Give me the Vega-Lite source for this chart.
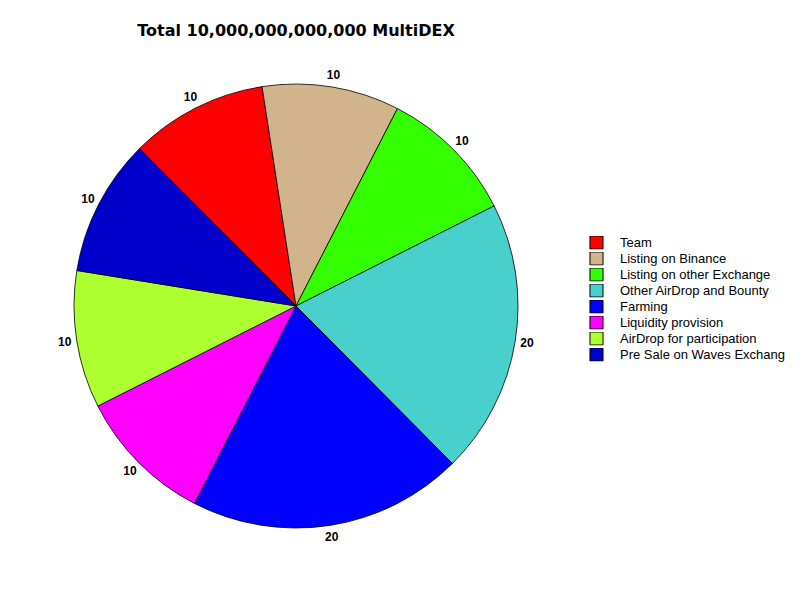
{
  "$schema": "https://vega.github.io/schema/vega-lite/v6.json",
  "autosize": "none",
  "width": 500,
  "height": 500,
  "padding": {"left": 46, "top": 56, "right": 254, "bottom": 44},
  "background": "white",
  "title": {
    "text": "Total 10,000,000,000,000 MultiDEX",
    "font": "DejaVu Sans",
    "fontSize": 16,
    "fontWeight": "bold",
    "color": "black",
    "anchor": "middle",
    "frame": "group",
    "offset": 17
  },
  "data": {
    "values": [
      {"name": "Team", "value": 10, "ord": 1},
      {"name": "Listing on Binance", "value": 10, "ord": 2},
      {"name": "Listing on other Exchange", "value": 10, "ord": 3},
      {"name": "Other AirDrop and Bounty", "value": 20, "ord": 4},
      {"name": "Farming", "value": 20, "ord": 5},
      {"name": "Liquidity provision", "value": 10, "ord": 6},
      {"name": "AirDrop for participation", "value": 10, "ord": 7},
      {"name": "Pre Sale on Waves Exchang", "value": 10, "ord": 8}
    ]
  },
  "encoding": {
    "theta": {"field": "value", "type": "quantitative", "stack": true, "scale": {"range": [-0.7819, 5.5013]}},
    "order": {"field": "ord", "type": "quantitative"}
  },
  "layer": [
    {
      "mark": {"type": "arc", "outerRadius": 222, "stroke": "black", "strokeWidth": 0.8},
      "encoding": {
        "color": {
          "field": "name",
          "type": "nominal",
          "sort": null,
          "scale": {
            "domain": ["Team", "Listing on Binance", "Listing on other Exchange", "Other AirDrop and Bounty", "Farming", "Liquidity provision", "AirDrop for participation", "Pre Sale on Waves Exchang"],
            "range": ["#FF0000", "#D2B48C", "#33FF00", "#48D1CC", "#0000FF", "#FF00FF", "#ADFF2F", "#0000CD"]
          },
          "legend": {
            "title": null,
            "orient": "none",
            "legendX": 543,
            "legendY": 180,
            "symbolType": "square",
            "symbolSize": 170,
            "symbolStrokeColor": "black",
            "symbolStrokeWidth": 1,
            "symbolOpacity": 1,
            "labelFont": "Liberation Sans",
            "labelFontSize": 13,
            "labelColor": "black",
            "labelOffset": 16,
            "labelLimit": 300,
            "clipHeight": 13,
            "rowPadding": 2
          }
        }
      }
    },
    {
      "mark": {"type": "text", "radius": 234, "font": "Liberation Sans", "fontSize": 12, "fontWeight": "bold", "color": "black", "align": "center", "baseline": "middle"},
      "encoding": {"text": {"field": "value", "type": "quantitative"}}
    }
  ]
}
